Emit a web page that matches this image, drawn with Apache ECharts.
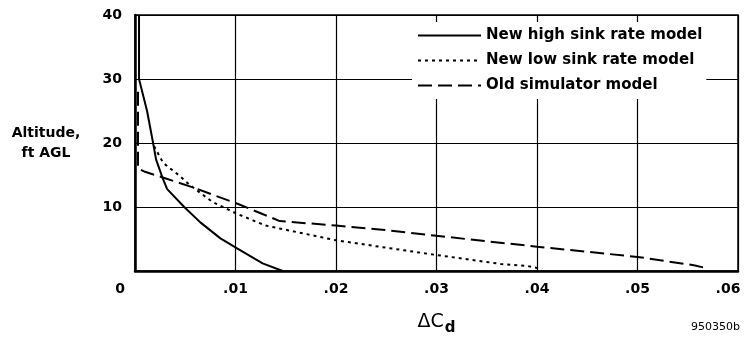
<!DOCTYPE html>
<html>
<head>
<meta charset="utf-8">
<script src="https://cdn.jsdelivr.net/npm/echarts@6/dist/echarts.min.js"></script>
<style>
  html, body { margin: 0; padding: 0; background: #fff; }
  #chart { width: 746px; height: 341px; }
</style>
</head>
<body>
<div id="chart"></div>
<script>
"use strict";

// delta Cd vs altitude (ft AGL)
var highSinkCd  = [0.0004, 0.0004, 0.0012, 0.0018, 0.0021, 0.0028, 0.0032, 0.0049, 0.0065, 0.0085, 0.0102, 0.0127, 0.0147];
var highSinkAlt = [40, 30, 25, 20, 17.4, 14.3, 12.8, 10, 7.6, 5.1, 3.5, 1.2, 0];

var lowSinkCd  = [0.0019, 0.0028, 0.0045, 0.0054, 0.0077, 0.0102, 0.013, 0.02, 0.0243, 0.03, 0.0364, 0.039, 0.0405];
var lowSinkAlt = [19.5, 16.9, 14.8, 13.5, 10.8, 8.9, 7.1, 4.8, 3.8, 2.5, 1.1, 0.8, 0.3];

var oldSimCd  = [0.0003, 0.0003, 0.001, 0.003, 0.0057, 0.0102, 0.0144, 0.02, 0.0243, 0.03, 0.04, 0.05, 0.0556, 0.0567];
var oldSimAlt = [28, 16, 15.5, 14.5, 13.1, 10.5, 7.8, 7.1, 6.5, 5.5, 3.8, 2.2, 0.9, 0.5];

var seriesNames = ['New high sink rate model', 'New low sink rate model', 'Old simulator model'];
var xTicks = [0, 0.01, 0.02, 0.03, 0.04, 0.05, 0.06];
var yTicks = [0, 10, 20, 30, 40];

var pairs = function(xs, ys) {
  var out = [];
  for (var i = 0; i < xs.length; i++) {
    out.push([xs[i], ys[i]]);
  }
  return out;
};

var font = '"DejaVu Sans", "Liberation Sans", sans-serif';

var lineSeries = function(name, data, type) {
  return {
    name: name,
    type: 'line',
    data: data,
    symbol: 'none',
    lineStyle: { color: '#000', width: 2, type: type },
    itemStyle: { color: '#000' },
    z: 3
  };
};

var chart = echarts.init(document.getElementById('chart'), null, { renderer: 'canvas' });
chart.setOption({
  animation: false,
  backgroundColor: '#fff',
  textStyle: { fontFamily: font },
  grid: {
    left: 135, right: 8, top: 15, bottom: 68,
    show: true, borderColor: '#000', borderWidth: 1.5
  },
  legend: {
    data: seriesNames,
    orient: 'vertical',
    left: 412,
    top: 22,
    padding: [6, 4, 6, 5],
    itemGap: 10,
    itemWidth: 63,
    itemHeight: 14,
    backgroundColor: '#fff',
    itemStyle: { opacity: 0 },
    lineStyle: { width: 2 },
    textStyle: { fontFamily: font, fontWeight: 'bold', fontSize: 15, color: '#000' }
  },
  xAxis: {
    type: 'value',
    min: xTicks[0],
    max: xTicks[xTicks.length - 1],
    interval: 0.01,
    name: '{d|ΔC}{s|d}',
    nameLocation: 'middle',
    nameGap: 38,
    nameTextStyle: {
      rich: {
        d: { fontFamily: font, fontSize: 19, color: '#000' },
        s: { fontFamily: font, fontSize: 15, fontWeight: 'bold', color: '#000', padding: [12, 0, 0, 1] }
      }
    },
    axisLine: { show: true, lineStyle: { color: '#000', width: 2.5 } },
    axisTick: { show: false },
    splitLine: { show: true, lineStyle: { color: '#000', width: 1.2 } },
    axisLabel: {
      margin: 11,
      color: '#000',
      fontFamily: font,
      fontWeight: 'bold',
      fontSize: 14,
      formatter: function(v) {
        if (v === 0) return '{z|0}';
        if (Math.abs(v - 0.06) < 1e-9) return '{e|.06}';
        return '.0' + Math.round(v * 100);
      },
      rich: {
        z: { fontFamily: font, fontWeight: 'bold', fontSize: 14, color: '#000', padding: [0, 30, 0, 0] },
        e: { fontFamily: font, fontWeight: 'bold', fontSize: 14, color: '#000', padding: [0, 20, 0, 0] }
      }
    }
  },
  yAxis: {
    type: 'value',
    min: yTicks[0],
    max: yTicks[yTicks.length - 1],
    interval: 10,
    name: 'Altitude,\nft AGL',
    nameLocation: 'middle',
    nameRotate: 0,
    nameGap: 89,
    nameTextStyle: {
      fontFamily: font, fontWeight: 'bold', fontSize: 14, color: '#000',
      align: 'center', lineHeight: 20
    },
    axisLine: { show: true, lineStyle: { color: '#000', width: 2.5 } },
    axisTick: { show: false },
    splitLine: { show: true, lineStyle: { color: '#000', width: 1.2 } },
    axisLabel: {
      margin: 13,
      color: '#000',
      fontFamily: font,
      fontWeight: 'bold',
      fontSize: 14,
      formatter: function(v) { return v === 0 ? '' : String(v); }
    }
  },
  graphic: [{
    type: 'text',
    right: 6,
    top: 322,
    style: { text: '950350b', fontFamily: font, fontSize: 11, fill: '#000' }
  }],
  series: [
    lineSeries(seriesNames[0], pairs(highSinkCd, highSinkAlt), 'solid'),
    lineSeries(seriesNames[1], pairs(lowSinkCd, lowSinkAlt), [3, 4]),
    lineSeries(seriesNames[2], pairs(oldSimCd, oldSimAlt), [14, 6])
  ]
});
</script>
</body>
</html>
